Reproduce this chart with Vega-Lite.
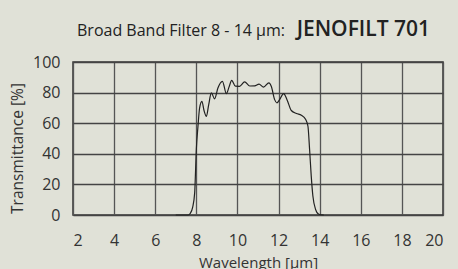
{
  "$schema": "https://vega.github.io/schema/vega-lite/v6.json",
  "width": 370,
  "height": 153,
  "autosize": "none",
  "padding": {"left": 73, "top": 62, "right": 15, "bottom": 54},
  "background": "#e0e1d7",
  "config": {
    "view": {"stroke": "#333", "strokeWidth": 1.5},
    "font": "Open Sans"
  },
  "encoding": {
    "x": {
      "field": "w", "type": "quantitative",
      "scale": {"domain": [2, 20], "nice": false},
      "axis": {
        "values": [2, 4, 6, 8, 10, 12, 14, 16, 18, 20],
        "title": "Wavelength [µm]",
        "titleFont": "Open Sans", "titleFontSize": 15, "titleFontWeight": "normal",
        "titleColor": "#333", "titlePadding": 7,
        "labelFont": "Open Sans", "labelFontSize": 16, "labelColor": "#333",
        "labelPadding": 17, "ticks": false, "domain": false,
        "labelOverlap": false, "labelBound": false,
        "grid": true, "gridColor": "#555", "gridWidth": 1.3
      }
    },
    "y": {
      "field": "t", "type": "quantitative",
      "scale": {"domain": [0, 100], "nice": false},
      "axis": {
        "values": [0, 20, 40, 60, 80, 100],
        "title": "Transmittance [%]",
        "titleFont": "Open Sans", "titleFontSize": 15.5, "titleFontWeight": "normal",
        "titleColor": "#333", "titleX": -56, "titleY": 86,
        "titleAngle": 270, "titleAlign": "center", "titleBaseline": "middle",
        "labelFont": "Open Sans", "labelFontSize": 16, "labelColor": "#333",
        "labelPadding": 13, "ticks": false, "domain": false,
        "labelOverlap": false, "labelBound": false, "labelFlush": false,
        "grid": true, "gridColor": "#444", "gridWidth": 1.3
      }
    }
  },
  "layer": [
    {
      "data": {"values": [
        {"w": 7.0, "t": 0}, {"w": 7.3, "t": 0}, {"w": 7.6, "t": 0}, {"w": 7.7, "t": 1},
        {"w": 7.82, "t": 5}, {"w": 7.92, "t": 14.6}, {"w": 8.0, "t": 42.8},
        {"w": 8.08, "t": 58}, {"w": 8.16, "t": 70}, {"w": 8.27, "t": 74.3},
        {"w": 8.38, "t": 68}, {"w": 8.49, "t": 64.5}, {"w": 8.6, "t": 72},
        {"w": 8.73, "t": 79.8}, {"w": 8.89, "t": 75.9}, {"w": 9.05, "t": 83},
        {"w": 9.27, "t": 87.4}, {"w": 9.46, "t": 79.3}, {"w": 9.6, "t": 84},
        {"w": 9.72, "t": 88}, {"w": 9.9, "t": 84.2}, {"w": 10.1, "t": 84.1},
        {"w": 10.35, "t": 87}, {"w": 10.6, "t": 84.3}, {"w": 10.84, "t": 84.4},
        {"w": 11.05, "t": 85.5}, {"w": 11.27, "t": 83.6}, {"w": 11.53, "t": 86.4},
        {"w": 11.65, "t": 84}, {"w": 11.81, "t": 75.4}, {"w": 11.92, "t": 73.3},
        {"w": 12.05, "t": 75.4}, {"w": 12.25, "t": 79.3}, {"w": 12.41, "t": 75.4},
        {"w": 12.62, "t": 68.3}, {"w": 12.87, "t": 66.3}, {"w": 13.11, "t": 65.2},
        {"w": 13.32, "t": 62.4}, {"w": 13.43, "t": 58}, {"w": 13.51, "t": 42.8},
        {"w": 13.59, "t": 25.4}, {"w": 13.67, "t": 12.4}, {"w": 13.8, "t": 3.7},
        {"w": 13.96, "t": 0.5}, {"w": 14.2, "t": 0}
      ]},
      "mark": {"type": "line", "color": "#222", "strokeWidth": 1.2, "interpolate": "monotone"}
    },
    {
      "data": {"values": [{"label": "Broad Band Filter 8 - 14 µm:", "w": 2, "t": 100}]},
      "mark": {"type": "text", "font": "Open Sans", "fontSize": 16, "color": "#222", "align": "left", "baseline": "alphabetic", "dx": 4, "dy": -26, "clip": false},
      "encoding": {"text": {"field": "label"}}
    },
    {
      "data": {"values": [{"label": "JENOFILT 701", "w": 20, "t": 100}]},
      "mark": {"type": "text", "font": "Open Sans", "fontSize": 21, "fontWeight": 600, "color": "#222", "align": "right", "baseline": "alphabetic", "dx": -13, "dy": -26, "clip": false},
      "encoding": {"text": {"field": "label"}}
    }
  ]
}
